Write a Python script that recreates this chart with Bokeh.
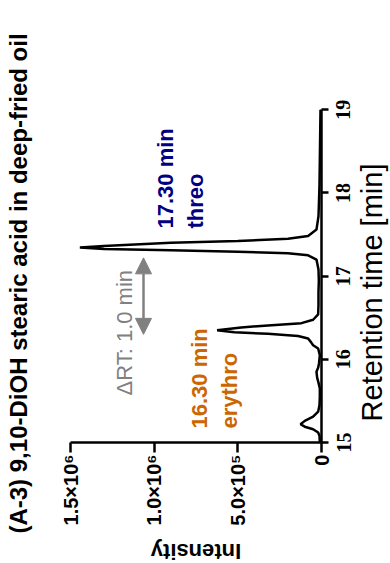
import math
from bokeh.plotting import figure
from bokeh.models import (Label, LabelSet, Arrow, NormalHead, FixedTicker, Range1d,
                          LinearAxis, ColumnDataSource, CustomJSTickFormatter)
from bokeh.embed import file_html
from bokeh.resources import INLINE

# ---- data ----
retention_time = [15.00, 15.08, 15.12, 15.16, 15.19, 15.22, 15.26, 15.31, 15.37, 15.45,
                  15.55, 15.65, 15.72, 15.78, 15.85, 15.90, 15.95, 16.05, 16.13, 16.17,
                  16.21, 16.25, 16.28, 16.307, 16.326, 16.35, 16.383, 16.407, 16.435, 16.476,
                  16.54, 16.65, 16.80, 16.95, 17.08, 17.20, 17.25, 17.274, 17.293, 17.31,
                  17.326, 17.345, 17.362, 17.402, 17.423, 17.45, 17.483, 17.56, 17.72, 17.90,
                  18.10, 18.40, 18.70, 19.00]
intensity = [1.0e4, 1.2e4, 2.0e4, 5.0e4, 1.0e5, 1.25e5, 1.0e5, 5.0e4, 2.0e4, 1.2e4,
             1.0e4, 1.0e4, 1.8e4, 2.6e4, 3.0e4, 2.0e4, 1.5e4, 1.0e4, 2.0e4, 5.0e4,
             6.4e4, 8.0e4, 1.4e5, 3.2e5, 5.2e5, 6.24e5, 4.8e5, 3.2e5, 1.2e5, 5.0e4,
             2.0e4, 1.8e4, 1.8e4, 1.6e4, 1.8e4, 3.0e4, 8.0e4, 2.0e5, 5.0e5, 9.0e5,
             1.30e6, 1.444e6, 1.30e6, 9.0e5, 5.0e5, 2.0e5, 8.0e4, 3.0e4, 1.8e4, 1.5e4,
             1.2e4, 1.0e4, 8.0e3, 6.0e3]

rt_ticks = [15, 16, 17, 18, 19]
rt_tick_labels = ["15", "16", "17", "18", "19"]
intensity_ticks = [0, 500000, 1000000, 1500000]
intensity_tick_labels = ["0", "5.0\u00d710\u2075", "1.0\u00d710\u2076", "1.5\u00d710\u2076"]

title_text = "(A-3) 9,10-DiOH stearic acid in deep-fried oil"
x_title = "Intensity"
y_title = "Retention time [min]"
threo_rt_text = "17.30 min"
threo_text = "threo"
erythro_rt_text = "16.30 min"
erythro_text = "erythro"
delta_text = "\u0394RT: 1.0 min"
arrow_rt = [16.30, 17.22]

FONT = "Liberation Sans"
NAVY = "#000080"
ORANGE = "#CC6600"
GREY = "#808080"

# ---- layout: the plot area is the whole canvas, axes sit at fixed locations ----
W, H = 390, 563
PX_IMAX, PX_I0 = 70.0, 321.0      # screen x of 1.5e6 and of 0
PY_15, PY_19 = 442.0, 109.3       # screen y of 15 and of 19 min
I_MAX = 1.5e6
K = I_MAX / (PX_I0 - PX_IMAX)     # intensity per pixel
M = 4.0 / (PY_15 - PY_19)         # minutes per pixel


def ix(px):
    return I_MAX - (px - PX_IMAX) * K


def ry(py):
    return 15.0 + (PY_15 - py) * M


p = figure(width=W, height=H,
           x_range=Range1d(ix(0), ix(W)), y_range=Range1d(ry(H), ry(0)),
           x_axis_location=None, y_axis_location=None,
           output_backend="svg", toolbar_location=None,
           min_border_left=0, min_border_right=0,
           min_border_top=0, min_border_bottom=0)
p.outline_line_color = None
p.grid.visible = False
p.background_fill_color = "white"
p.border_fill_color = "white"

p.line(intensity, retention_time, line_color="black", line_width=2.5)

xa = LinearAxis(fixed_location=15, bounds=(0, I_MAX))
xa.ticker = FixedTicker(ticks=intensity_ticks)
xa.major_label_overrides = {t: l for t, l in zip(intensity_ticks, intensity_tick_labels)}
xa.major_label_orientation = math.pi / 2
xa.major_tick_out = 10
xa.major_tick_in = 0
xa.minor_tick_out = 0
xa.minor_tick_in = 0
xa.axis_line_width = 2.5
xa.major_tick_line_width = 2.5
xa.major_label_standoff = 2
xa.major_label_text_font = FONT
xa.major_label_text_font_style = "bold"
xa.major_label_text_font_size = "20px"
xa.major_label_text_color = "black"
p.add_layout(xa, "below")

ya = LinearAxis(fixed_location=0, bounds=(15, 19))
ya.ticker = FixedTicker(ticks=rt_ticks)
ya.formatter = CustomJSTickFormatter(code="return ''")
ya.major_tick_out = 7
ya.major_tick_in = 0
ya.minor_tick_out = 0
ya.minor_tick_in = 0
ya.axis_line_width = 2.5
ya.major_tick_line_width = 2.5
p.add_layout(ya, "right")

rot = math.pi / 2

rt_src = ColumnDataSource(dict(rt=rt_ticks, label=rt_tick_labels))
p.add_layout(LabelSet(x=ix(343), y="rt", text="label", source=rt_src, angle=rot,
                      text_align="center", text_baseline="middle",
                      text_font=FONT, text_font_style="bold", text_font_size="20px",
                      text_color="black"))

p.add_layout(Label(x=ix(371), y=ry(292), text=y_title, angle=rot,
                   text_align="center", text_baseline="middle",
                   text_font=FONT, text_font_style="normal", text_font_size="29px",
                   text_color="black"))
p.add_layout(Label(x=ix(195.5), y=ry(551), text=x_title, angle=math.pi,
                   text_align="center", text_baseline="middle",
                   text_font=FONT, text_font_style="bold", text_font_size="22px",
                   text_color="black"))
p.add_layout(Label(x=ix(18), y=ry(283), text=title_text, angle=rot,
                   text_align="center", text_baseline="middle",
                   text_font=FONT, text_font_style="bold", text_font_size="24px",
                   text_color="black"))

p.add_layout(Label(x=ix(165), y=ry(228), text=threo_rt_text, angle=rot,
                   text_align="left", text_baseline="middle",
                   text_font=FONT, text_font_style="bold", text_font_size="22px",
                   text_color=NAVY))
p.add_layout(Label(x=ix(195), y=ry(228), text=threo_text, angle=rot,
                   text_align="left", text_baseline="middle",
                   text_font=FONT, text_font_style="bold", text_font_size="22px",
                   text_color=NAVY))
p.add_layout(Label(x=ix(198.5), y=ry(428), text=erythro_rt_text, angle=rot,
                   text_align="left", text_baseline="middle",
                   text_font=FONT, text_font_style="bold", text_font_size="22px",
                   text_color=ORANGE))
p.add_layout(Label(x=ix(229), y=ry(428), text=erythro_text, angle=rot,
                   text_align="left", text_baseline="middle",
                   text_font=FONT, text_font_style="bold", text_font_size="22px",
                   text_color=ORANGE))
p.add_layout(Label(x=ix(123.5), y=ry(395), text=delta_text, angle=rot,
                   text_align="left", text_baseline="middle",
                   text_font=FONT, text_font_style="normal", text_font_size="22px",
                   text_color=GREY))

p.add_layout(Arrow(start=NormalHead(size=16, fill_color=GREY, line_color=GREY),
                   end=NormalHead(size=16, fill_color=GREY, line_color=GREY),
                   x_start=ix(143), y_start=arrow_rt[0], x_end=ix(143), y_end=arrow_rt[1],
                   line_color=GREY, line_width=2.5))

open("out.html", "w").write(file_html(p, INLINE))
